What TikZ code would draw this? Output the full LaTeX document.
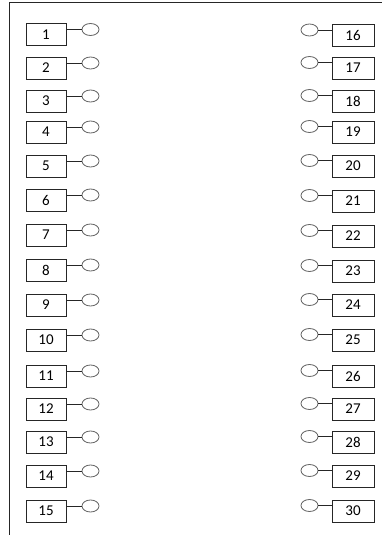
\documentclass[tikz,border=0pt]{standalone}
\usepackage{fontspec}
\setmainfont{Carlito}
\usetikzlibrary{shapes.geometric}
\definecolor{pingray}{RGB}{100,100,100}
\begin{document}
\begin{tikzpicture}[x=1pt,y=-1pt,
  numbox/.style={draw=black!85,line width=0.8pt,minimum width=40pt,minimum height=22pt,inner sep=0pt,font=\fontsize{15}{15}\selectfont},
  pin/.style={draw=pingray,line width=0.8pt,ellipse,minimum width=17pt,minimum height=12pt,inner sep=0pt},
  wire/.style={draw=black!85,line width=0.8pt},
  frame/.style={draw=black!85,line width=1pt}]
\useasboundingbox (0,0) rectangle (382,535);
\coordinate (f1) at (9,535);
\coordinate (f2) at (9,3);
\coordinate (f3) at (382,3);
\draw[frame] (f1) -- (f2) -- (f3);
\foreach \n/\y in {1/34.5,2/68,3/101,4/132,5/166,6/200,7/235,8/270,9/305,10/340,11/376,12/409,13/442,14/476,15/511}{
  \node[numbox] (L\n) at (46,\y) {\n};
  \node[pin] (cL\n) at (90.5,\y-5) {};
  \draw[wire] (cL\n.west) -- (cL\n.west -| L\n.east);
}
\foreach \n/\y in {16/35.5,17/68,18/101,19/132,20/166,21/201,22/236,23/271,24/305,25/340,26/376,27/409,28/442,29/476,30/511}{
  \node[numbox,minimum width=42pt] (R\n) at (353,\y) {\n};
  \node[pin] (cR\n) at (309.5,\y-5.5) {};
  \draw[wire] (cR\n.east) -- (cR\n.east -| R\n.west);
}
\end{tikzpicture}
\end{document}
